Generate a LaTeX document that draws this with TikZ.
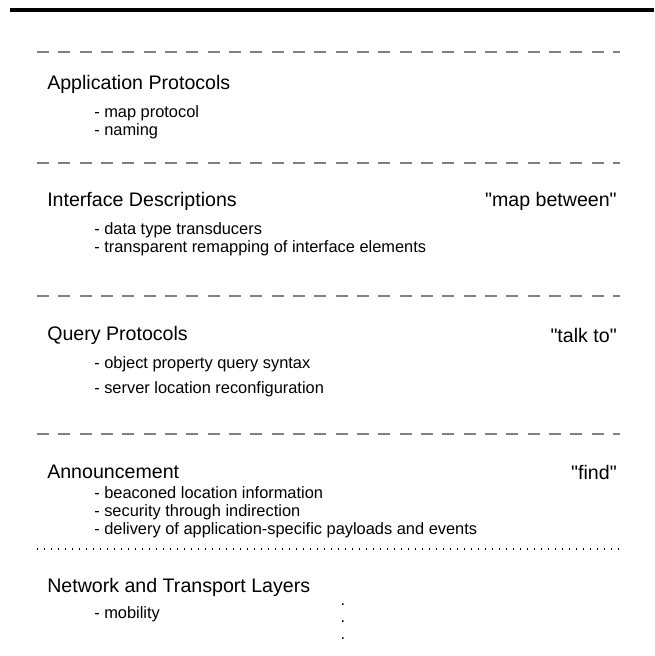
\documentclass[tikz,border=0pt]{standalone}
\usepackage{fontspec}
\setmainfont[Ligatures=TeXReset]{Liberation Sans}
\usepackage{xcolor}
\usetikzlibrary{positioning}

\tikzset{
  layersep/.style={gray, line width=1.6pt, dash pattern=on 9pt off 7pt},
  heading/.style={anchor=west, inner sep=0pt, font=\fontsize{14.7}{17}\selectfont},
  item/.style={anchor=west, inner sep=0pt, font=\fontsize{12.3}{14}\selectfont},
  verb/.style={anchor=east, inner sep=0pt, font=\fontsize{14.7}{17}\selectfont}
}

\begin{document}
\begin{tikzpicture}[x=0.75pt, y=-0.75pt]
			\useasboundingbox (0,0) rectangle (654,656);
			% barra de cima
			\draw [line width=3pt] (10,10) -- (654,10);
			
			% separadores
			\foreach \y in {52, 163, 296, 434}
				\draw [layersep] (37,\y) -- (620,\y);
			\draw [line width=1.1pt, dash pattern=on 1.1pt off 4.15pt] (37,549) -- (624,549);
			
			% camada de aplicacao
			\node [heading] (app) at (47,84) {Application Protocols};
			\node [item] (app1) at (94,113) {- map protocol};
			\node [item] (app2) at (94,131) {- naming};
			
			% descricao de interfaces
			\node [heading] (iface) at (47,201) {Interface Descriptions};
			\node [verb] (ifaceverb) at (617,201) {\textquotedbl map between\textquotedbl};
			\node [item] (iface1) at (94,230) {- data type transducers};
			\node [item] (iface2) at (94,248) {- transparent remapping of interface elements};
			
			% protocolos de consulta
			\node [heading] (query) at (47,335) {Query Protocols};
			\node [verb] (queryverb) at (617,335) {\textquotedbl talk to\textquotedbl};
			\node [item] (query1) at (94,364) {- object property query syntax};
			\node [item] (query2) at (94,389) {- server location reconfiguration};
			
			% anuncio
			\node [heading] (ann) at (47,472) {Announcement};
			\node [verb] (annverb) at (617,472) {\textquotedbl find\textquotedbl};
			\node [item] (ann1) at (94,493) {- beaconed location information};
			\node [item] (ann2) at (94,512) {- security through indirection};
			\node [item] (ann3) at (94,530) {- delivery of application-specific payloads and events};
			
			% rede e transporte
			\node [heading] (net) at (47,587) {Network and Transport Layers};
			\node [item] (net1) at (94,614) {- mobility};
			\foreach \y [count=\i] in {605, 622, 639}
				\node [item, anchor=center] (dot\i) at (343,\y) {.};
		\end{tikzpicture}
\end{document}
